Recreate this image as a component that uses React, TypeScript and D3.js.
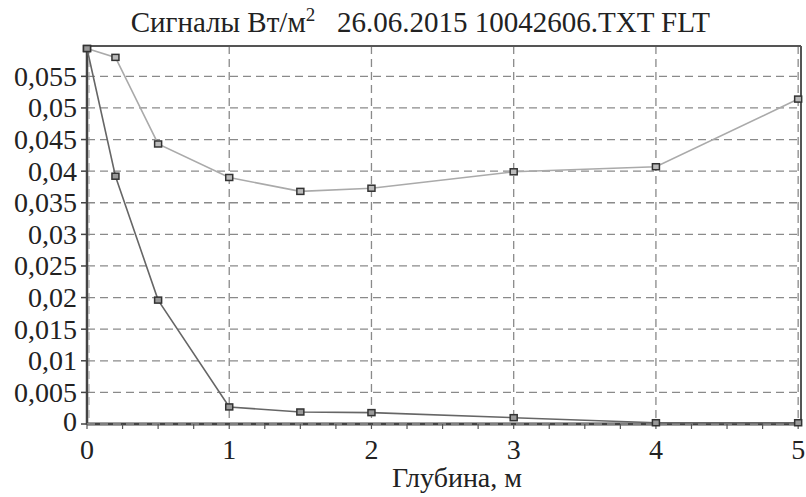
import React from "react";
import * as d3 from "d3";

const depths = [0, 0.2, 0.5, 1, 1.5, 2, 3, 4, 5];
const seriesDark = [0.0594, 0.0392, 0.0196, 0.0027, 0.0019, 0.0018, 0.001, 0.0002, 0.0002];
const seriesLight = [0.0594, 0.058, 0.0443, 0.039, 0.0368, 0.0373, 0.0399, 0.0407, 0.0514];
const yTicks = [0, 0.005, 0.01, 0.015, 0.02, 0.025, 0.03, 0.035, 0.04, 0.045, 0.05, 0.055];
const yTickLabels = ["0", "0,005", "0,01", "0,015", "0,02", "0,025", "0,03", "0,035", "0,04", "0,045", "0,05", "0,055"];
const xTicks = [0, 1, 2, 3, 4, 5];
const xMinor = d3.range(0, 5.01, 0.25);

const W = 806, H = 497;
const L = 87, R = 801, T = 46, B = 424;

export default function App() {
  const x = d3.scaleLinear().domain([0, 5.02]).range([L, R]);
  const y = d3.scaleLinear().domain([0, 0.0598]).range([B, T]);
  const line = d3.line<number>().x((_, i) => x(depths[i])).y((v) => y(v));
  const fs = { fontFamily: "Liberation Serif" };
  const grid = "#8a8a8a";
  return (
    <svg width={W} height={H} style={{ position: "absolute", left: 0, top: 0, background: "#fff" }}>
      <rect x={0} y={0} width={W} height={H} fill="#fff" />
      {yTicks.map((t) => (
        <line key={"gy" + t} x1={L} x2={R} y1={y(t)} y2={y(t)} stroke={grid} strokeWidth={1.3} strokeDasharray="8,5" />
      ))}
      {xTicks.map((t) => (
        <line key={"gx" + t} x1={x(t)} x2={x(t)} y1={T} y2={B} stroke={grid} strokeWidth={1.3} strokeDasharray="8,5" />
      ))}
      <line x1={L} x2={R} y1={T} y2={T} stroke="#555" strokeWidth={2} />
      <line x1={R} x2={R} y1={T} y2={B} stroke="#555" strokeWidth={2} />
      <line x1={L} x2={L} y1={T} y2={B + 1} stroke="#444" strokeWidth={2.5} />
      <line x1={L} x2={R} y1={B} y2={B} stroke="#444" strokeWidth={3} />
      <line x1={L} x2={R} y1={B} y2={B} stroke="#bbb" strokeWidth={1} strokeDasharray="8,5" />
      <line x1={L + 2} x2={L + 2} y1={T} y2={B} stroke="#999" strokeWidth={1} strokeDasharray="8,5" />
      {yTicks.map((t) => (
        <line key={"ty" + t} x1={L - 6} x2={L} y1={y(t)} y2={y(t)} stroke="#444" strokeWidth={1.5} />
      ))}
      {xMinor.map((t) => (
        <line key={"tx" + t} x1={x(t)} x2={x(t)} y1={B} y2={B + 5} stroke="#555" strokeWidth={1.2} />
      ))}
      <path d={line(seriesLight) || ""} fill="none" stroke="#aaa" strokeWidth={1.6} />
      <path d={line(seriesDark) || ""} fill="none" stroke="#666" strokeWidth={1.6} />
      {seriesLight.map((v, i) => (
        <rect key={"ml" + i} x={x(depths[i]) - 3.5} y={y(v) - 3} width={7} height={6} fill="#bbb" stroke="#333" strokeWidth={1.5} />
      ))}
      {seriesDark.map((v, i) => (
        <rect key={"md" + i} x={x(depths[i]) - 3.5} y={y(v) - 3} width={7} height={6} fill="#999" stroke="#333" strokeWidth={1.5} />
      ))}
      {yTicks.map((t, i) => (
        <text key={"ly" + t} x={L - 10} y={y(t) + 9.5 - (t === 0 ? 3 : 0)} textAnchor="end" fontSize={28} fill="#222" style={fs}>
          {yTickLabels[i]}
        </text>
      ))}
      {xTicks.map((t) => (
        <text key={"lx" + t} x={x(t)} y={459} textAnchor="middle" fontSize={28} fill="#222" style={fs}>
          {t}
        </text>
      ))}
      <text x={457} y={487} textAnchor="middle" fontSize={28} fill="#222" style={fs}>Глубина, м</text>
      <text x={710} y={32} textAnchor="end" fontSize={29} fill="#222" style={fs}>
        Сигналы Вт/м<tspan dy={-11} fontSize={19}>2</tspan><tspan dy={11}>{"\u00a0\u00a0\u00a026.06.2015 10042606.TXT FLT"}</tspan>
      </text>
    </svg>
  );
}
